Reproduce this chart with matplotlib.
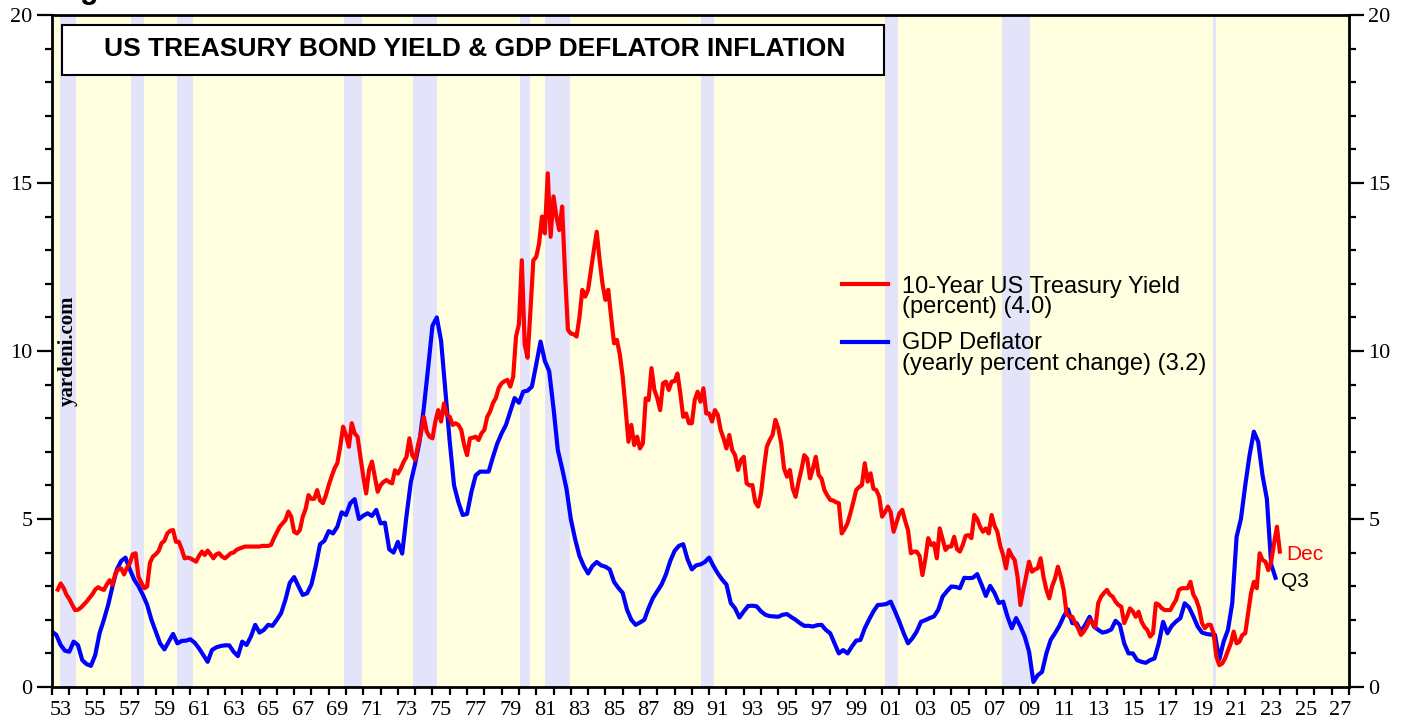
import numpy as np
import matplotlib
matplotlib.use("Agg")
import matplotlib.pyplot as plt
from matplotlib.patches import Rectangle
from matplotlib.ticker import MultipleLocator, FixedLocator, FixedFormatter

nan = np.nan

# 10-year Treasury yield (percent), six readings per year (every two months), 1953..2023
yield_10y = [
    [nan, nan, 2.90, 3.08, 2.95, 2.75],   # 1953
    [2.62, 2.45, 2.29, 2.30, 2.36, 2.45],
    [2.54, 2.65, 2.76, 2.90, 2.97, 2.92],
    [2.89, 3.05, 3.18, 3.04, 3.38, 3.50],
    [3.53, 3.35, 3.55, 3.68, 3.95, 3.98],
    [3.28, 3.10, 2.94, 2.99, 3.70, 3.88],
    [3.95, 4.05, 4.28, 4.35, 4.57, 4.65],
    [4.67, 4.32, 4.32, 4.10, 3.83, 3.85],   # 1960
    [3.83, 3.78, 3.73, 3.90, 4.03, 3.93],
    [4.06, 3.95, 3.83, 3.95, 3.98, 3.88],
    [3.83, 3.90, 3.98, 4.00, 4.08, 4.12],
    [4.15, 4.18, 4.18, 4.18, 4.18, 4.18],
    [4.18, 4.20, 4.20, 4.20, 4.23, 4.43],
    [4.60, 4.77, 4.87, 4.97, 5.22, 5.07],
    [4.62, 4.57, 4.67, 5.07, 5.30, 5.71],
    [5.60, 5.60, 5.86, 5.55, 5.47, 5.70],
    [6.00, 6.26, 6.50, 6.66, 7.15, 7.75],
    [7.50, 7.15, 7.85, 7.55, 7.45, 6.85],   # 1970
    [6.26, 5.76, 6.46, 6.71, 6.26, 5.81],
    [6.01, 6.10, 6.16, 6.10, 6.06, 6.45],
    [6.35, 6.50, 6.70, 6.85, 7.40, 6.90],
    [6.76, 7.20, 7.55, 8.04, 7.60, 7.45],
    [7.40, 7.90, 8.24, 7.90, 8.44, 8.10],
    [8.04, 7.80, 7.85, 7.80, 7.65, 7.20],
    [6.90, 7.40, 7.42, 7.45, 7.35, 7.55],
    [7.65, 8.04, 8.20, 8.45, 8.60, 8.90],
    [9.04, 9.10, 9.14, 8.94, 9.23, 10.43],
    [10.80, 12.70, 10.20, 9.80, 11.20, 12.70],   # 1980
    [12.80, 13.20, 14.00, 13.50, 15.29, 13.40],
    [14.60, 14.00, 13.60, 14.30, 12.31, 10.63],
    [10.52, 10.50, 10.43, 11.00, 11.82, 11.62],
    [11.82, 12.41, 13.00, 13.55, 12.71, 12.00],
    [11.52, 11.82, 11.00, 10.23, 10.33, 9.90],
    [9.24, 8.30, 7.30, 7.80, 7.20, 7.45],
    [7.10, 7.25, 8.59, 8.54, 9.49, 8.84],
    [8.60, 8.24, 9.04, 9.09, 8.84, 9.09],
    [9.10, 9.33, 8.74, 8.04, 8.14, 7.85],
    [7.85, 8.54, 8.79, 8.49, 8.89, 8.14],   # 1990
    [8.14, 7.90, 8.24, 8.10, 7.65, 7.40],
    [7.10, 7.50, 7.05, 6.90, 6.46, 6.75],
    [6.85, 6.06, 6.00, 6.01, 5.50, 5.37],
    [5.76, 6.50, 7.15, 7.35, 7.50, 7.95],
    [7.70, 7.25, 6.50, 6.26, 6.46, 5.90],
    [5.66, 6.10, 6.46, 6.90, 6.80, 6.21],
    [6.50, 6.85, 6.31, 6.20, 5.86, 5.70],
    [5.57, 5.55, 5.50, 5.47, 4.57, 4.70],
    [4.87, 5.17, 5.50, 5.86, 5.95, 6.01],
    [6.66, 6.11, 6.36, 5.90, 5.86, 5.66],   # 2000
    [5.07, 5.20, 5.37, 5.20, 4.62, 4.90],
    [5.17, 5.27, 4.95, 4.67, 3.98, 4.03],
    [4.03, 3.90, 3.33, 3.80, 4.43, 4.23],
    [4.28, 3.83, 4.72, 4.40, 4.08, 4.18],
    [4.18, 4.47, 4.10, 4.03, 4.23, 4.50],
    [4.52, 4.43, 5.12, 5.00, 4.77, 4.62],
    [4.72, 4.57, 5.12, 4.80, 4.62, 4.20],
    [3.93, 3.53, 4.08, 3.90, 3.78, 3.28],
    [2.44, 2.89, 3.30, 3.73, 3.43, 3.50],
    [3.53, 3.83, 3.28, 2.90, 2.64, 3.00],   # 2010
    [3.23, 3.58, 3.28, 2.89, 2.19, 2.09],
    [2.09, 1.90, 1.75, 1.55, 1.65, 1.79],
    [1.99, 1.90, 1.79, 2.50, 2.69, 2.80],
    [2.89, 2.75, 2.69, 2.54, 2.44, 2.39],
    [1.90, 2.10, 2.34, 2.25, 2.09, 2.24],
    [1.95, 1.79, 1.70, 1.50, 1.60, 2.49],
    [2.45, 2.35, 2.29, 2.29, 2.29, 2.45],
    [2.59, 2.89, 2.94, 2.94, 2.94, 3.13],
    [2.75, 2.60, 2.34, 1.90, 1.75, 1.85],
    [1.85, 1.60, 0.90, 0.65, 0.70, 0.85],   # 2020
    [1.08, 1.30, 1.65, 1.30, 1.35, 1.55],
    [1.60, 2.20, 2.79, 3.13, 2.94, 3.98],
    [3.78, 3.73, 3.48, 3.73, 4.28, 4.77],
]
yield_dec_2023 = 4.03

# GDP deflator, yearly percent change, four readings per year (quarterly), 1953..2023
deflator = [
    [1.65, 1.55, 1.25, 1.08],   # 1953
    [1.05, 1.35, 1.25, 0.80],
    [0.68, 0.63, 0.95, 1.60],
    [2.00, 2.45, 3.00, 3.50],
    [3.75, 3.85, 3.50, 3.20],
    [3.00, 2.75, 2.45, 2.00],
    [1.65, 1.30, 1.12, 1.35],
    [1.58, 1.30, 1.37, 1.38],   # 1960
    [1.42, 1.32, 1.15, 0.95],
    [0.75, 1.10, 1.18, 1.22],
    [1.24, 1.24, 1.05, 0.92],
    [1.35, 1.25, 1.50, 1.85],
    [1.62, 1.70, 1.85, 1.82],
    [2.00, 2.20, 2.60, 3.10],
    [3.27, 3.00, 2.74, 2.79],
    [3.05, 3.60, 4.25, 4.35],
    [4.64, 4.57, 4.77, 5.20],
    [5.12, 5.47, 5.59, 5.00],   # 1970
    [5.10, 5.17, 5.09, 5.27],
    [4.87, 4.89, 4.10, 4.00],
    [4.32, 3.97, 5.10, 6.10],
    [6.65, 7.30, 8.30, 9.50],
    [10.75, 11.00, 10.30, 8.80],
    [7.30, 6.00, 5.50, 5.12],
    [5.15, 5.80, 6.30, 6.41],
    [6.41, 6.41, 6.85, 7.25],
    [7.55, 7.80, 8.20, 8.60],
    [8.46, 8.79, 8.82, 8.94],   # 1980
    [9.60, 10.28, 9.70, 9.40],
    [8.30, 7.05, 6.50, 5.90],
    [5.00, 4.40, 3.90, 3.60],
    [3.38, 3.60, 3.72, 3.62],
    [3.58, 3.50, 3.13, 2.95],
    [2.80, 2.30, 2.00, 1.85],
    [1.92, 2.00, 2.35, 2.65],
    [2.85, 3.05, 3.35, 3.75],
    [4.05, 4.20, 4.25, 3.80],
    [3.50, 3.62, 3.65, 3.72],   # 1990
    [3.85, 3.60, 3.38, 3.20],
    [3.05, 2.50, 2.34, 2.07],
    [2.25, 2.41, 2.42, 2.40],
    [2.25, 2.15, 2.11, 2.10],
    [2.09, 2.15, 2.17, 2.08],
    [2.00, 1.90, 1.82, 1.82],
    [1.80, 1.84, 1.85, 1.70],
    [1.60, 1.30, 1.00, 1.10],
    [1.00, 1.20, 1.38, 1.40],
    [1.75, 2.01, 2.25, 2.44],   # 2000
    [2.45, 2.47, 2.54, 2.25],
    [1.94, 1.60, 1.30, 1.45],
    [1.65, 1.94, 1.99, 2.05],
    [2.10, 2.30, 2.69, 2.85],
    [2.99, 2.98, 2.94, 3.25],
    [3.24, 3.25, 3.36, 3.05],
    [2.71, 3.01, 2.80, 2.50],
    [2.54, 2.10, 1.75, 2.05],
    [1.80, 1.50, 1.05, 0.15],
    [0.35, 0.45, 1.00, 1.40],   # 2010
    [1.60, 1.82, 2.10, 2.31],
    [1.90, 1.90, 1.65, 1.85],
    [2.09, 1.80, 1.70, 1.62],
    [1.65, 1.71, 1.97, 1.85],
    [1.30, 1.00, 1.00, 0.80],
    [0.75, 0.72, 0.80, 0.85],
    [1.30, 1.94, 1.60, 1.82],
    [1.95, 2.05, 2.49, 2.37],
    [2.10, 1.80, 1.62, 1.58],
    [1.56, 1.55, 0.82, 1.35],   # 2020
    [1.70, 2.50, 4.47, 5.00],
    [6.00, 6.90, 7.60, 7.30],
    [6.30, 5.60, 3.65, 3.25],
]

# recessions (decimal years)
recessions = [(1953.46, 1954.39), (1957.57, 1958.33), (1960.24, 1961.16),
              (1969.91, 1970.95), (1973.85, 1975.29), (1980.04, 1980.62),
              (1981.49, 1982.94), (1990.52, 1991.27), (2001.18, 2001.93),
              (2007.95, 2009.55), (2020.12, 2020.32)]

first_year = 1953
tick_years = np.arange(1953, 2028, 2)

YELLOW = "#FFFFE0"
LAVENDER = "#E3E3FA"
RED = "#FF0000"
BLUE = "#0000FF"


def main() -> None:
    y10 = np.append(np.ravel(yield_10y), yield_dec_2023)
    t_y10 = first_year + np.arange(len(y10)) / 6
    defl = np.ravel(deflator)
    t_defl = first_year + np.arange(len(defl)) / 4

    fig = plt.figure(figsize=(14.07, 7.21), dpi=100)
    ax = fig.add_axes([52 / 1407, 34 / 721, 1297 / 1407, 672 / 721])
    ax.set_facecolor(YELLOW)
    for s, e in recessions:
        ax.axvspan(s, e, color=LAVENDER, lw=0, zorder=0)

    ax.plot(t_y10, y10, color=RED, lw=3, solid_joinstyle="round", zorder=3)
    ax.plot(t_defl, defl, color=BLUE, lw=3, solid_joinstyle="round", zorder=2)

    ax.set_xlim(1953, 2028)
    ax.set_ylim(0, 20)

    # axes / ticks
    for sp in ax.spines.values():
        sp.set_linewidth(2)
    ax.xaxis.set_major_locator(MultipleLocator(1))
    ax.xaxis.set_major_formatter(plt.NullFormatter())
    ax.xaxis.set_minor_locator(FixedLocator(tick_years + 0.5))
    ax.xaxis.set_minor_formatter(FixedFormatter([f"{y % 100:02d}" for y in tick_years]))
    ax.tick_params(axis="x", which="major", direction="out", length=6, width=1.6)
    ax.tick_params(axis="x", which="minor", length=0, pad=10, labelsize=16)

    ax.yaxis.set_major_locator(MultipleLocator(5))
    ax.yaxis.set_minor_locator(MultipleLocator(1))
    ax.tick_params(axis="y", which="both", direction="out", left=True, right=True,
                   labelleft=True, labelright=True, width=1.6)
    ax.tick_params(axis="y", which="major", length=11, pad=3, labelsize=16)
    ax.tick_params(axis="y", which="minor", length=5)
    for lab in ax.get_xticklabels(minor=True) + ax.get_yticklabels():
        lab.set_family("Liberation Serif")

    # title box
    ax.add_patch(Rectangle((0.0077, 0.911), 0.634, 0.074, transform=ax.transAxes,
                           facecolor="white", edgecolor="black", lw=1.5, zorder=5))
    ax.text(0.3257, 0.949, "US TREASURY BOND YIELD & GDP DEFLATOR INFLATION",
            transform=ax.transAxes, ha="center", va="center", fontsize=19,
            fontweight="bold", family="Liberation Sans", zorder=6)

    # legend (hand-placed like the original)
    tr = ax.transAxes
    ax.plot([0.609, 0.6446], [0.5997, 0.5997], color=RED, lw=3, transform=tr, zorder=6)
    ax.plot([0.609, 0.6446], [0.5134, 0.5134], color=BLUE, lw=3, transform=tr, zorder=6)
    leg_kw = dict(transform=fig.transFigure, fontsize=17, family="Liberation Sans",
                  va="baseline", ha="left")
    fig.text(902 / 1407, 1 - 292.7 / 721, "10-Year US Treasury Yield", **leg_kw)
    fig.text(902 / 1407, 1 - 313.5 / 721, "(percent) (4.0)", **leg_kw)
    fig.text(902 / 1407, 1 - 349.3 / 721, "GDP Deflator", **leg_kw)
    fig.text(902 / 1407, 1 - 370.0 / 721, "(yearly percent change) (3.2)", **leg_kw)

    # end labels
    fig.text(1286 / 1407, 1 - 560 / 721, "Dec", color=RED, fontsize=15,
             family="Liberation Sans", va="baseline")
    fig.text(1281 / 1407, 1 - 587 / 721, "Q3", color="black", fontsize=15,
             family="Liberation Sans", va="baseline")

    ax.text(0.012, 0.50, "yardeni.com", transform=ax.transAxes, rotation=90,
            ha="center", va="center", fontsize=15, fontweight="bold",
            family="Liberation Serif", zorder=6)

    # figure caption, clipped by the top edge as in the original
    fig.text(53 / 1407, 1.003, "Figure 1.", fontsize=22, fontweight="bold",
             family="Liberation Sans", va="baseline")

    fig.savefig("out.png", dpi=100)


if __name__ == "__main__":
    main()
